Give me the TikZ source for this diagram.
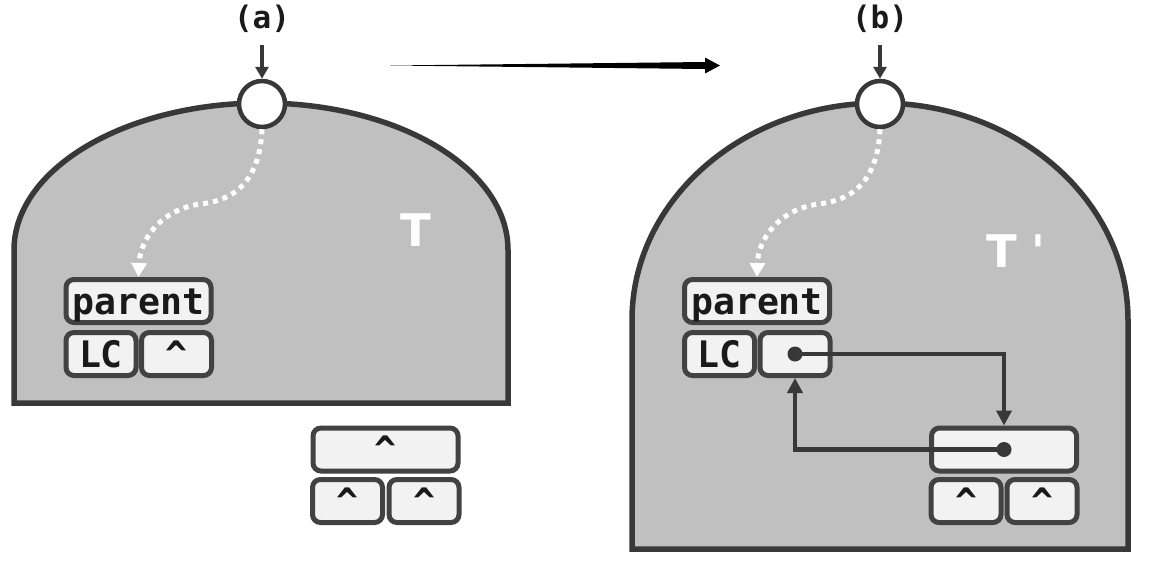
\documentclass[tikz,border=0pt]{standalone}
\usepackage{fontspec}
\newfontfamily\monob{DejaVu Sans Mono}[BoldFont={DejaVu Sans Mono Bold}]
\newfontfamily\sansb{DejaVu Sans}[BoldFont={DejaVu Sans Bold}]
\usetikzlibrary{arrows.meta}
\definecolor{domefill}{HTML}{C0C0C0}
\definecolor{edgec}{HTML}{383838}
\definecolor{boxfill}{HTML}{F2F2F2}
\definecolor{boxedge}{HTML}{424242}
\definecolor{txt}{HTML}{1A1A1A}
\tikzset{
  dome/.style={draw=edgec, fill=domefill, line width=5.5pt, line join=miter},
  root/.style={circle, draw=edgec, fill=white, line width=4.5pt, minimum size=46pt, inner sep=0pt},
  cell/.style={draw=boxedge, fill=boxfill, line width=5pt, rounded corners=8pt, inner sep=0pt,
    minimum height=43pt, text=txt, font=\monob\bfseries\fontsize{36.5}{38}\selectfont,
    text height=26pt, text depth=0pt},
  wide/.style={cell, minimum width=145pt},
  half/.style={cell, minimum width=70pt},
  conn/.style={draw=edgec, line width=4.5pt, -{Triangle[width=15pt,length=15pt]}},
  dotarrow/.style={draw=white, line width=5pt, dash pattern=on 5pt off 5pt, -{Triangle[width=15pt,length=14pt]}},
  steplabel/.style={text=txt, font=\monob\bfseries\fontsize{31}{33}\selectfont, inner sep=0pt},
  tlab/.style={text=white, font=\sansb\bfseries\fontsize{45}{48}\selectfont, inner sep=0pt},
  pdot/.style={fill=edgec}
}
\begin{document}
\begin{tikzpicture}[x=1pt,y=-1pt]
\useasboundingbox (0,0) rectangle (1154,566);
\fill[white] (0,0) rectangle (1154,566);
% domes
\draw[dome] (14,403) -- (14,250) .. controls (14,168.8) and (125.6,103) .. (262,103)
  .. controls (398.4,103) and (508,168.8) .. (508,250) -- (508,403) -- cycle;
\draw[dome] (632,549) -- (632,320) .. controls (632,200.2) and (743,103) .. (880,103)
  .. controls (1017,103) and (1128,200.2) .. (1128,320) -- (1128,549) -- cycle;
% labels
\node[tlab] (T) at (416,230) {T};
\node[tlab] (T2) at (1016,251) {T\hspace{14pt}\char"27};
\node[steplabel] (la) at (262,19) {(a)};
\node[steplabel] (lb) at (880,19) {(b)};
% roots
\node[root] (c1) at (262,104) {};
\node[root] (c2) at (880,104) {};
\coordinate (a1) at (262,45);
\coordinate (a2) at (880,45);
\draw[conn, line width=3.5pt, -{Triangle[width=13pt,length=12pt]}] (a1) -- (c1.north);
\draw[conn, line width=3.5pt, -{Triangle[width=13pt,length=12pt]}] (a2) -- (c2.north);
% left tree boxes
\node[wide] (pa) at (138.5,301) {parent};
\node[half] (lc) at (101,354) {LC};
\node[half] (rc) at (176.5,354) {\char"5E};
% loose node
\node[wide] (nn) at (385.5,449.5) {\char"5E};
\node[half] (nl) at (347.5,501) {\char"5E};
\node[half] (nr) at (424,501) {\char"5E};
% right tree boxes
\node[wide] (pb) at (757,301) {parent};
\node[half] (lc2) at (719.5,354) {LC};
\node[half] (ptr) at (795,354) {};
\node[wide] (mm) at (1004,449.5) {};
\node[half] (ml) at (966,501) {\char"5E};
\node[half] (mr) at (1042,501) {\char"5E};
% dotted descent paths
\draw[dotarrow] (c1.south) .. controls (260,175) and (240,200) .. (200,204)
  .. controls (160,210) and (140,240) .. (pa.north);
\draw[dotarrow] (c2.south) .. controls (878,175) and (858,200) .. (818,204)
  .. controls (778,210) and (758,240) .. (pb.north);
% pointers
\draw[conn] (ptr.center) -| (mm.north);
\draw[conn] (mm.center) -| (ptr.south);
\fill[pdot] (ptr.center) circle[radius=7.5pt];
\fill[pdot] (mm.center) circle[radius=7.5pt];
% transformation arrow
\coordinate (m1) at (390,65.5);
\coordinate (m2) at (720,65.5);
\fill[black] (m1) -- (705,62) -- (705,57.5) -- (m2) -- (705,73.5) -- (705,69) -- cycle;
\end{tikzpicture}
\end{document}
